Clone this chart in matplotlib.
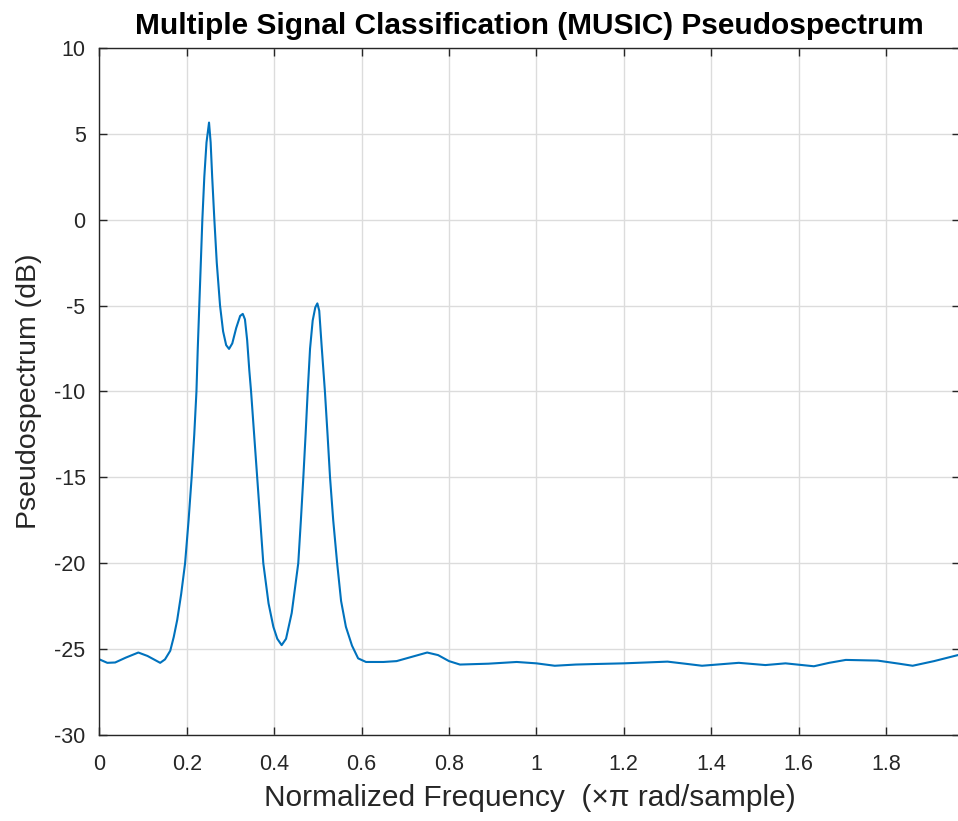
import matplotlib
matplotlib.use("Agg")
import matplotlib.pyplot as plt

# Normalized frequency (x pi rad/sample) and pseudospectrum (dB)
freq = [0.000, 0.018, 0.036, 0.060, 0.089, 0.110, 0.139, 0.150, 0.162, 0.170,
        0.178, 0.187, 0.196, 0.204, 0.211, 0.217, 0.222, 0.225, 0.2285, 0.232,
        0.2355, 0.240, 0.245, 0.2508, 0.2545, 0.258, 0.263, 0.2685, 0.276, 0.283,
        0.290, 0.2966, 0.304, 0.313, 0.322, 0.328, 0.333, 0.338, 0.343, 0.347,
        0.354, 0.361, 0.368, 0.375, 0.387, 0.398, 0.407, 0.417, 0.427, 0.440,
        0.455, 0.461, 0.4666, 0.4718, 0.4766, 0.482, 0.488, 0.494, 0.4987, 0.503,
        0.5087, 0.516, 0.522, 0.5277, 0.535, 0.544, 0.553, 0.564, 0.578, 0.592,
        0.610, 0.650, 0.680, 0.715, 0.750, 0.775, 0.800, 0.825, 0.890, 0.955,
        1.000, 1.042, 1.090, 1.133, 1.200, 1.300, 1.340, 1.379, 1.463, 1.524,
        1.570, 1.635, 1.670, 1.708, 1.781, 1.830, 1.861, 1.910, 1.966]
pseudo_db = [-25.6, -25.8, -25.78, -25.5, -25.2, -25.4, -25.8, -25.6, -25.1, -24.3,
             -23.3, -21.8, -20.0, -17.5, -15.0, -12.5, -10.0, -7.5, -5.0, -2.5,
             0.0, 2.5, 4.5, 5.66, 4.5, 2.5, 0.0, -2.5, -5.0, -6.5,
             -7.3, -7.52, -7.2, -6.3, -5.6, -5.48, -5.8, -7.0, -8.78, -10.0,
             -12.5, -15.0, -17.5, -20.0, -22.34, -23.7, -24.4, -24.77, -24.4, -22.9,
             -20.0, -17.5, -15.0, -12.5, -10.0, -7.5, -5.87, -5.1, -4.87, -5.3,
             -7.42, -10.0, -12.5, -15.0, -17.5, -20.0, -22.2, -23.7, -24.8, -25.54,
             -25.75, -25.75, -25.7, -25.45, -25.2, -25.35, -25.7, -25.9, -25.85, -25.75,
             -25.83, -25.97, -25.9, -25.87, -25.83, -25.73, -25.85, -25.97, -25.8, -25.93,
             -25.83, -26.0, -25.8, -25.63, -25.67, -25.85, -25.97, -25.7, -25.34]

xticks = [0, 0.2, 0.4, 0.6, 0.8, 1.0, 1.2, 1.4, 1.6, 1.8]
xticklabels = ["0", "0.2", "0.4", "0.6", "0.8", "1", "1.2", "1.4", "1.6", "1.8"]
yticks = [-30, -25, -20, -15, -10, -5, 0, 5, 10]

plt.rcParams['font.family'] = ['Liberation Sans', 'DejaVu Sans']
plt.rcParams['axes.unicode_minus'] = False

fig = plt.figure(figsize=(9.58, 8.21), dpi=100)
ax = fig.add_axes([0.1038, 0.1048, 0.8980, 0.8367])

ax.plot(freq, pseudo_db, color='#0072BD', linewidth=1.5)

ax.set_xlim(0, 1.96875)
ax.set_ylim(-30, 10)
ax.set_xticks(xticks)
ax.set_xticklabels(xticklabels)
ax.set_yticks(yticks)

txtc = '#262626'
for s in ax.spines.values():
    s.set_color(txtc)
    s.set_linewidth(1.0)
ax.tick_params(direction='in', length=6, width=1.0, colors=txtc,
               labelsize=15.5, top=True, right=True)
ax.tick_params(axis='x', pad=14)
ax.tick_params(axis='y', pad=10)
ax.grid(True, color='#dcdcdc', linewidth=1.0)
ax.set_axisbelow(True)

ax.set_title("Multiple Signal Classification (MUSIC) Pseudospectrum",
             fontsize=21.5, fontweight='bold', color='black', pad=10)
ax.set_xlabel("Normalized Frequency  (×π rad/sample)", fontsize=21.5, color=txtc, labelpad=6)
ax.set_ylabel("Pseudospectrum (dB)", fontsize=20.5, color=txtc, labelpad=9)

fig.savefig("out.png", dpi=100)
